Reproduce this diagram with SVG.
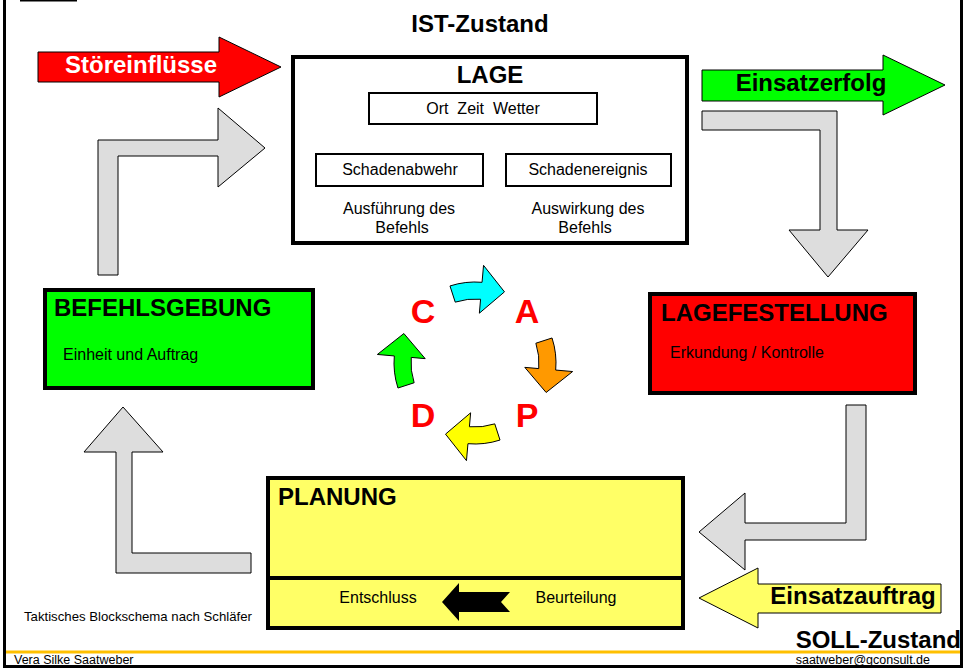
<svg xmlns="http://www.w3.org/2000/svg" width="966" height="668" viewBox="0 0 966 668">
<style>
text{font-family:"Liberation Sans",Arial,sans-serif;}
.t{font-size:24px;font-weight:bold;fill:#000;}
.s{font-size:16px;fill:#000;}
.f{font-size:12.5px;fill:#000;}
.box{stroke:#000;stroke-width:4;}
.ibox{fill:#fff;stroke:#000;stroke-width:2;}
.grey{fill:#DDDDDD;stroke:#000;stroke-width:1;}
.arr{stroke:#000;stroke-width:1;}
.pdca{font-size:34px;font-weight:bold;fill:#FF0000;text-anchor:middle;}
.c{text-anchor:middle;}
</style>
<rect x="0" y="0" width="966" height="668" fill="#fff"/>
<g id="frame">
<line x1="20" y1="0.5" x2="77" y2="0.5" stroke="#000" stroke-width="2"/>
<line x1="4.5" y1="0" x2="4.5" y2="668" stroke="#000" stroke-width="3"/>
<line x1="961.5" y1="0" x2="961.5" y2="668" stroke="#000" stroke-width="3"/>
<line x1="6" y1="652" x2="960" y2="652" stroke="#FFC000" stroke-width="3"/>
<text class="f" x="14" y="664">Vera Silke Saatweber</text>
<text class="f" x="930" y="664" text-anchor="end">saatweber@gconsult.de</text>
<line x1="3" y1="666.5" x2="963" y2="666.5" stroke="#000" stroke-width="3"/>
</g>

<g id="ist-zustand"><text class="t c" x="480" y="32">IST-Zustand</text></g>
<g id="soll-zustand"><text class="t" x="961" y="648" text-anchor="end">SOLL-Zustand</text></g>
<g id="caption"><text x="24" y="621" style="font-size:13.2px">Taktisches Blockschema nach Schläfer</text></g>

<g id="connectors">
<path class="arr" fill="#FF0000" d="M38,52 L219,52 L219,37 L281,67 L219,97 L219,82 L38,82 Z"/>
<text class="t c" x="141" y="73" style="fill:#fff">Störeinflüsse</text>
<path class="arr" fill="#00FF00" d="M702,70 L883,70 L883,55 L945,85 L883,115 L883,101 L702,101 Z"/>
<text class="t c" x="811" y="91">Einsatzerfolg</text>
<path class="arr" fill="#FFFF66" d="M941,584 L941,613 L758,613 L758,628 L699,598 L758,568 L758,584 Z"/>
<text class="t c" x="853" y="604">Einsatzauftrag</text>
<path class="grey" d="M702,111 L837,111 L837,230 L868,230 L828,277 L789,230 L820,230 L820,130 L702,130 Z"/>
<path class="grey" d="M846,405 L866,405 L866,540 L745,540 L745,570 L699,532 L745,493 L745,523 L846,523 Z"/>
<path class="grey" d="M123,407 L163,452 L132,452 L132,553 L251,553 L251,573 L116,573 L116,452 L84,452 Z"/>
<path class="grey" d="M98,275 L98,140 L218,140 L218,108 L265,148 L218,187 L218,156 L118,156 L118,275 Z"/>
</g>

<g id="lage">
<rect class="box" x="293" y="57" width="394" height="186" fill="#fff"/>
<text class="t c" x="490" y="83">LAGE</text>
<rect class="ibox" x="369" y="93" width="228" height="31"/>
<text class="s c" x="483" y="114" xml:space="preserve">Ort  Zeit  Wetter</text>
<rect class="ibox" x="316" y="154" width="167" height="32"/>
<text class="s c" x="400" y="175">Schadenabwehr</text>
<rect class="ibox" x="506" y="154" width="165" height="32"/>
<text class="s c" x="588" y="175">Schadenereignis</text>
<text class="s c" x="399" y="214">Ausführung des</text>
<text class="s c" x="402" y="233">Befehls</text>
<text class="s c" x="588" y="214">Auswirkung des</text>
<text class="s c" x="585" y="233">Befehls</text>
</g>

<g id="befehlsgebung">
<rect class="box" x="45" y="290" width="268" height="98" fill="#00FF00"/>
<text class="t" x="54" y="316">BEFEHLSGEBUNG</text>
<text class="s" x="63" y="360">Einheit und Auftrag</text>
</g>

<g id="lagefestellung">
<rect class="box" x="650" y="294" width="265" height="99" fill="#FF0000"/>
<text class="t" x="661" y="321">LAGEFESTELLUNG</text>
<text class="s" x="670" y="358">Erkundung / Kontrolle</text>
</g>

<g id="planung">
<rect class="box" x="268" y="478" width="415" height="150" fill="#FFFF66"/>
<line x1="268" y1="578" x2="683" y2="578" stroke="#000" stroke-width="4"/>
<text class="t" x="278" y="505">PLANUNG</text>
<text class="s c" x="378" y="603">Entschluss</text>
<text class="s c" x="576" y="603">Beurteilung</text>
<path fill="#000" d="M442,602 L459,583 L459,592 L510,592 L501,602 L510,612 L459,612 L459,621 Z"/>
</g>

<g id="pdca">
<defs>
<path id="ca" d="M-25.03,-77.04 A81,81 0 0,1 7.06,-80.69 L8.54,-97.63 L29.47,-71.14 L4.36,-49.81 L5.58,-63.76 A64,64 0 0,0 -19.78,-60.87 Z"/>
</defs>
<use href="#ca" transform="translate(475,363)" fill="#00FFFF" stroke="#000" stroke-width="1"/>
<use href="#ca" transform="translate(475,363) rotate(90)" fill="#FF9900" stroke="#000" stroke-width="1"/>
<use href="#ca" transform="translate(475,363) rotate(180)" fill="#FFFF00" stroke="#000" stroke-width="1"/>
<use href="#ca" transform="translate(475,363) rotate(270)" fill="#00FF00" stroke="#000" stroke-width="1"/>
<text class="pdca" x="423" y="323">C</text>
<text class="pdca" x="527" y="323">A</text>
<text class="pdca" x="423" y="427">D</text>
<text class="pdca" x="527" y="427">P</text>
</g>
</svg>
